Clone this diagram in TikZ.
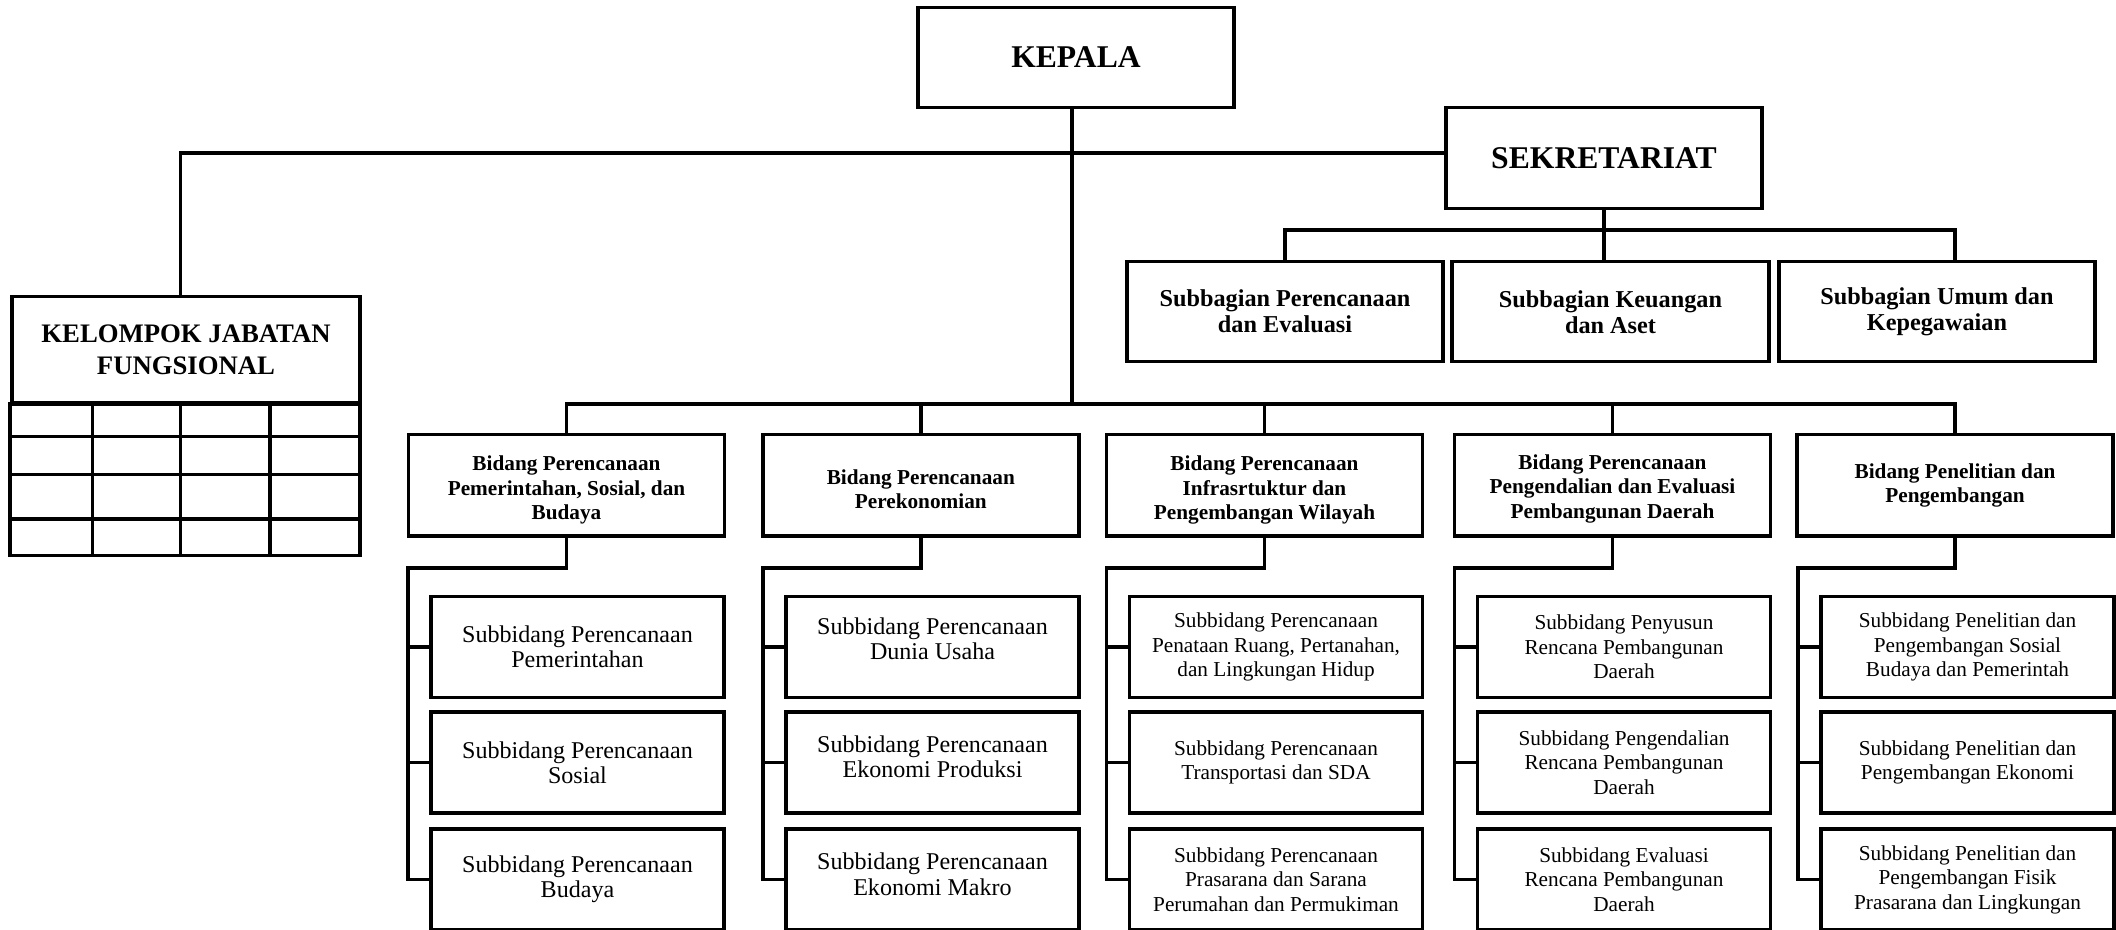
\documentclass[tikz,border=0pt]{standalone}
\usepackage{fontspec}
\setmainfont{Liberation Serif}
\begin{document}
\begin{tikzpicture}[
      box/.style={draw, line width=1pt, inner sep=0pt, align=center},
      kepalabox/.style={box, minimum width=3.16cm, minimum height=1.0cm,
        font=\bfseries\fontsize{9}{11}\selectfont},
      bagianbox/.style={box, minimum width=3.16cm, minimum height=1.0cm,
        font=\bfseries\fontsize{6.9}{7.4}\selectfont},
      bidangbox/.style={box, minimum width=3.16cm, minimum height=1.015cm,
        font=\bfseries\fontsize{6.05}{6.97}\selectfont},
      subbox/.style={box, minimum width=2.93cm, minimum height=1.01cm,
        font=\fontsize{6.85}{7.2}\selectfont},
      subboxkecil/.style={subbox, font=\fontsize{6.05}{6.97}\selectfont},
      garis/.style={line width=1pt}
    ]
      \useasboundingbox (0,0) rectangle (21.16,-9.29);
      % pimpinan
      \node[kepalabox] (kepala) at (10.76,-0.575) {KEPALA};
      \node[kepalabox, minimum height=1.01cm] (sekretariat) at (16.04,-1.578) {SEKRETARIAT};
      \node[box, minimum width=3.48cm, minimum height=1.056cm,
        font=\bfseries\fontsize{7.6}{9}\selectfont] (kjf) at (1.86,-3.495)
        {KELOMPOK JABATAN\\FUNGSIONAL};
      % subbagian
      \node[bagianbox] (sb1) at (12.85,-3.117) {Subbagian Perencanaan\\dan Evaluasi};
      \node[bagianbox, minimum width=3.17cm] (sb2) at (16.105,-3.117) {Subbagian Keuangan\\dan Aset};
      \node[bagianbox] (sb3) at (19.37,-3.117) {Subbagian Umum dan\\Kepegawaian};
      % bidang
      \node[bidangbox] (b1) at (5.665,-4.853) {\rule{0pt}{6.9pt}Bidang Perencanaan\\Pemerintahan, Sosial, dan\\Budaya};
      \node[bidangbox] (b2) at (9.208,-4.853) {\rule{0pt}{6.4pt}Bidang Perencanaan\\Perekonomian};
      \node[bidangbox] (b3) at (12.645,-4.853) {\rule{0pt}{6.9pt}Bidang Perencanaan\\Infrasrtuktur dan\\Pengembangan Wilayah};
      \node[bidangbox] (b4) at (16.125,-4.853) {\rule{0pt}{6.2pt}Bidang Perencanaan\\Pengendalian dan Evaluasi\\Pembangunan Daerah};
      \node[bidangbox] (b5) at (19.55,-4.853) {Bidang Penelitian dan\\Pengembangan};
      % subbidang
      \node[subbox] (s11) at (5.775,-6.47) {Subbidang Perencanaan\\Pemerintahan};
      \node[subbox] (s12) at (5.775,-7.625) {Subbidang Perencanaan\\Sosial};
      \node[subbox] (s13) at (5.775,-8.795) {Subbidang Perencanaan\\Budaya};
      \node[subbox] (s21) at (9.325,-6.47) {Subbidang Perencanaan\\Dunia Usaha\\[-2.6pt]\mbox{}};
      \node[subbox] (s22) at (9.325,-7.625) {Subbidang Perencanaan\\Ekonomi Produksi\\[-3.8pt]\mbox{}};
      \node[subbox] (s23) at (9.325,-8.795) {Subbidang Perencanaan\\Ekonomi Makro\\[-4.2pt]\mbox{}};
      \node[subboxkecil] (s31) at (12.76,-6.47) {Subbidang Perencanaan\\Penataan Ruang, Pertanahan,\\dan Lingkungan Hidup};
      \node[subboxkecil] (s32) at (12.76,-7.625) {Subbidang Perencanaan\\Transportasi dan SDA};
      \node[subboxkecil] (s33) at (12.76,-8.795) {Subbidang Perencanaan\\Prasarana dan Sarana\\Perumahan dan Permukiman};
      \node[subboxkecil] (s41) at (16.24,-6.47) {Subbidang Penyusun\\Rencana Pembangunan\\Daerah};
      \node[subboxkecil] (s42) at (16.24,-7.625) {Subbidang Pengendalian\\Rencana Pembangunan\\Daerah};
      \node[subboxkecil] (s43) at (16.24,-8.795) {Subbidang Evaluasi\\Rencana Pembangunan\\Daerah};
      \node[subboxkecil] (s51) at (19.675,-6.47) {Subbidang Penelitian dan\\Pengembangan Sosial\\Budaya dan Pemerintah};
      \node[subboxkecil] (s52) at (19.675,-7.625) {Subbidang Penelitian dan\\Pengembangan Ekonomi};
      \node[subboxkecil] (s53) at (19.675,-8.795) {Subbidang Penelitian dan\\Pengembangan Fisik\\Prasarana dan Lingkungan};
      % tabel kelompok jabatan fungsional
      \draw[garis] (kjf.south west) rectangle (3.60,-5.553);
      \draw[garis] (0.12,-4.367) -- (3.60,-4.367) (0.12,-4.743) -- (3.60,-4.743)
      (0.12,-5.19) -- (3.60,-5.19);
      \draw[garis] (0.923,-4.023) -- (0.923,-5.553) (1.807,-4.023) -- (1.807,-5.553)
      (2.70,-4.023) -- (2.70,-5.553);
      % garis komando
      \coordinate (kbus) at (0,-1.53);
      \coordinate (sbus) at (0,-2.30);
      \coordinate (bbus) at (0,-4.04);
      \draw[garis] ([xshift=-0.055cm]kjf.north) |- (kbus -| sekretariat.west);
      \draw[garis] ([xshift=-0.04cm]kepala.south) -- ([xshift=-0.04cm]kepala.south |- bbus);
      \draw[garis] (b1.north) |- (bbus -| b5.north) -- (b5.north);
      \draw[garis] (b2.north |- bbus) -- (b2.north);
      \draw[garis] (b3.north |- bbus) -- (b3.north);
      \draw[garis] (b4.north |- bbus) -- (b4.north);
      \draw[garis] (sekretariat.south) -- (sekretariat.south |- sb2.north);
      \draw[garis] (sb1.north) |- (sbus -| b5.north) -- (b5.north |- sb3.north);
      % garis subbidang
      \draw[garis] (b1.south) -- ++(0,-0.30) -| ([xshift=-0.215cm]s13.west) -- (s13.west)
      ([xshift=-0.215cm]s11.west) -- (s11.west) ([xshift=-0.215cm]s12.west) -- (s12.west);
      \draw[garis] (b2.south) -- ++(0,-0.30) -| ([xshift=-0.215cm]s23.west) -- (s23.west)
      ([xshift=-0.215cm]s21.west) -- (s21.west) ([xshift=-0.215cm]s22.west) -- (s22.west);
      \draw[garis] (b3.south) -- ++(0,-0.30) -| ([xshift=-0.215cm]s33.west) -- (s33.west)
      ([xshift=-0.215cm]s31.west) -- (s31.west) ([xshift=-0.215cm]s32.west) -- (s32.west);
      \draw[garis] (b4.south) -- ++(0,-0.30) -| ([xshift=-0.215cm]s43.west) -- (s43.west)
      ([xshift=-0.215cm]s41.west) -- (s41.west) ([xshift=-0.215cm]s42.west) -- (s42.west);
      \draw[garis] (b5.south) -- ++(0,-0.30) -| ([xshift=-0.215cm]s53.west) -- (s53.west)
      ([xshift=-0.215cm]s51.west) -- (s51.west) ([xshift=-0.215cm]s52.west) -- (s52.west);
    \end{tikzpicture}
\end{document}
